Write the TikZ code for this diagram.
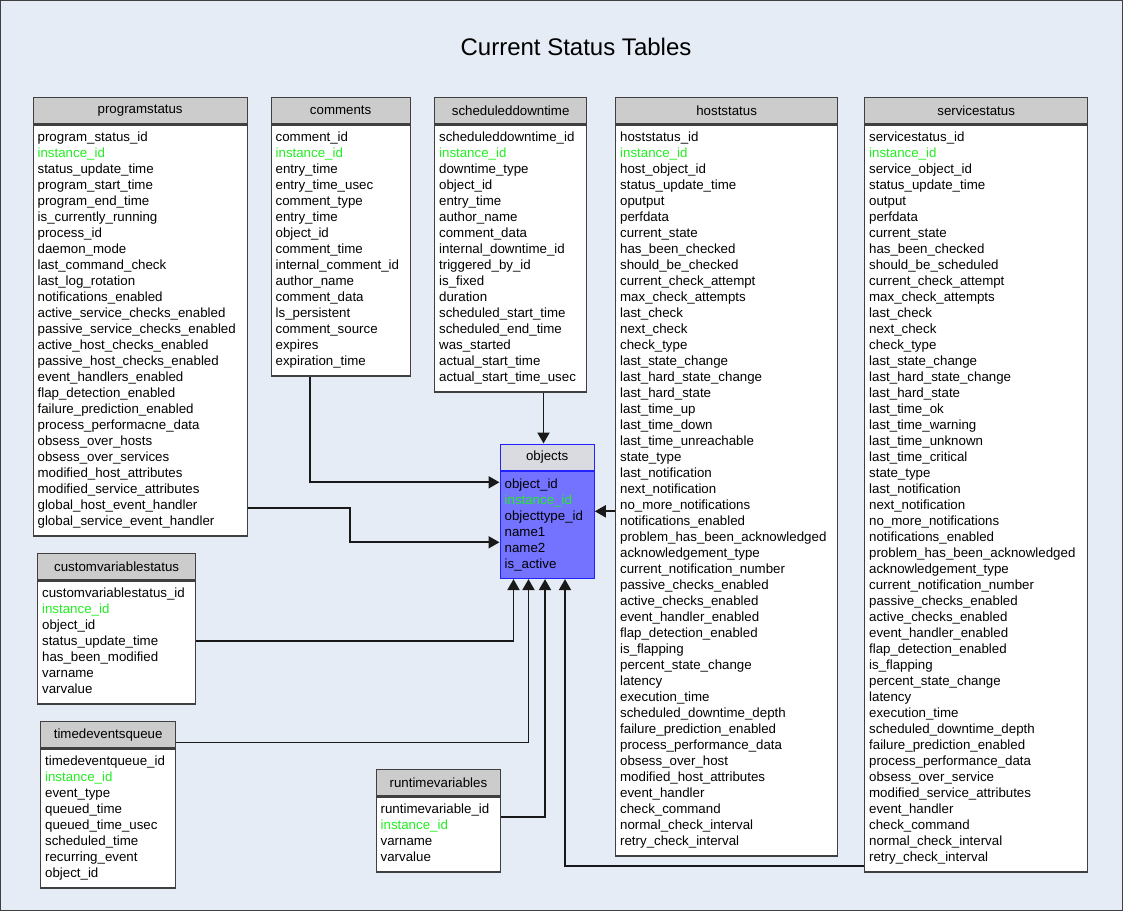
\documentclass[tikz,border=0pt]{standalone}
\usepackage{fontspec}
\setmainfont{Liberation Sans}
\usetikzlibrary{arrows.meta}

\definecolor{bgblue}{HTML}{E6ECF6}
\definecolor{hdrgray}{HTML}{CCCCCC}
\definecolor{boxline}{HTML}{404040}
\definecolor{idgreen}{HTML}{22EE22}
\definecolor{objfill}{HTML}{7373FF}
\definecolor{objline}{HTML}{2222FF}
\definecolor{objhdr}{HTML}{D9DBE0}

\newcommand{\fld}{\fontsize{13.3}{16}\selectfont}
\newcommand{\idf}[1]{\textcolor{idgreen}{#1}}

\begin{document}
\begin{tikzpicture}[x=1pt, y=-1pt,
    hdr/.style={draw=boxline, fill=hdrgray, line width=1.3pt, minimum height=26pt, inner sep=0pt, anchor=north west, font=\fld},
    body/.style={draw=boxline, fill=white, line width=1.3pt, anchor=north west, align=left, inner xsep=4.5pt, inner ysep=5.5pt, font=\fld, execute at begin node=\strut, execute at end node=\strut},
    conn/.style={draw=black!90, line width=1.9pt, -{Triangle[length=11pt,width=12pt]}}]
    \useasboundingbox (0,0) rectangle (1123,911);
    % frame and title
    \draw[fill=bgblue, draw=boxline, line width=1pt] (0.5,0.5) rectangle (1122.5,910.5);
    \node[font=\fontsize{24}{28}\selectfont] (title) at (576,47) {Current Status Tables};

    % programstatus
    \node[hdr, minimum width=214pt] (ps) at (32.5,97) {programstatus};
    \node[body, text width=205pt] (psb) at (ps.south west) {program\_status\_id\\ \idf{instance\_id}\\ status\_update\_time\\ program\_start\_time\\ program\_end\_time\\ is\_currently\_running\\ process\_id\\ daemon\_mode\\ last\_command\_check\\ last\_log\_rotation\\ notifications\_enabled\\ active\_service\_checks\_enabled\\ passive\_service\_checks\_enabled\\ active\_host\_checks\_enabled\\ passive\_host\_checks\_enabled\\ event\_handlers\_enabled\\ flap\_detection\_enabled\\ failure\_prediction\_enabled\\ process\_performacne\_data\\ obsess\_over\_hosts\\ obsess\_over\_services\\ modified\_host\_attributes\\ modified\_service\_attributes\\ global\_host\_event\_handler\\ global\_service\_event\_handler};

    % comments
    \node[hdr, minimum width=139pt] (cm) at (270.5,97) {comments};
    \node[body, text width=130pt] (cmb) at (cm.south west) {comment\_id\\ \idf{instance\_id}\\ entry\_time\\ entry\_time\_usec\\ comment\_type\\ entry\_time\\ object\_id\\ comment\_time\\ internal\_comment\_id\\ author\_name\\ comment\_data\\ ls\_persistent\\ comment\_source\\ expires\\ expiration\_time};

    % scheduleddowntime
    \node[hdr, minimum width=152pt] (sd) at (434,97) {scheduleddowntime};
    \node[body, text width=143pt] (sdb) at (sd.south west) {scheduleddowntime\_id\\ \idf{instance\_id}\\ downtime\_type\\ object\_id\\ entry\_time\\ author\_name\\ comment\_data\\ internal\_downtime\_id\\ triggered\_by\_id\\ is\_fixed\\ duration\\ scheduled\_start\_time\\ scheduled\_end\_time\\ was\_started\\ actual\_start\_time\\ actual\_start\_time\_usec};

    % hoststatus
    \node[hdr, minimum width=222pt] (hs) at (615,97) {hoststatus};
    \node[body, text width=213pt] (hsb) at (hs.south west) {hoststatus\_id\\ \idf{instance\_id}\\ host\_object\_id\\ status\_update\_time\\ oputput\\ perfdata\\ current\_state\\ has\_been\_checked\\ should\_be\_checked\\ current\_check\_attempt\\ max\_check\_attempts\\ last\_check\\ next\_check\\ check\_type\\ last\_state\_change\\ last\_hard\_state\_change\\ last\_hard\_state\\ last\_time\_up\\ last\_time\_down\\ last\_time\_unreachable\\ state\_type\\ last\_notification\\ next\_notification\\ no\_more\_notifications\\ notifications\_enabled\\ problem\_has\_been\_acknowledged\\ acknowledgement\_type\\ current\_notification\_number\\ passive\_checks\_enabled\\ active\_checks\_enabled\\ event\_handler\_enabled\\ flap\_detection\_enabled\\ is\_flapping\\ percent\_state\_change\\ latency\\ execution\_time\\ scheduled\_downtime\_depth\\ failure\_prediction\_enabled\\ process\_performance\_data\\ obsess\_over\_host\\ modified\_host\_attributes\\ event\_handler\\ check\_command\\ normal\_check\_interval\\ retry\_check\_interval};

    % servicestatus
    \node[hdr, minimum width=223pt] (ss) at (864,97) {servicestatus};
    \node[body, text width=214pt] (ssb) at (ss.south west) {servicestatus\_id\\ \idf{instance\_id}\\ service\_object\_id\\ status\_update\_time\\ output\\ perfdata\\ current\_state\\ has\_been\_checked\\ should\_be\_scheduled\\ current\_check\_attempt\\ max\_check\_attempts\\ last\_check\\ next\_check\\ check\_type\\ last\_state\_change\\ last\_hard\_state\_change\\ last\_hard\_state\\ last\_time\_ok\\ last\_time\_warning\\ last\_time\_unknown\\ last\_time\_critical\\ state\_type\\ last\_notification\\ next\_notification\\ no\_more\_notifications\\ notifications\_enabled\\ problem\_has\_been\_acknowledged\\ acknowledgement\_type\\ current\_notification\_number\\ passive\_checks\_enabled\\ active\_checks\_enabled\\ event\_handler\_enabled\\ flap\_detection\_enabled\\ is\_flapping\\ percent\_state\_change\\ latency\\ execution\_time\\ scheduled\_downtime\_depth\\ failure\_prediction\_enabled\\ process\_performance\_data\\ obsess\_over\_service\\ modified\_service\_attributes\\ event\_handler\\ check\_command\\ normal\_check\_interval\\ retry\_check\_interval};

    % objects
    \node[hdr, minimum width=94pt, draw=objline, fill=objhdr] (ob) at (499.5,443.5) {objects};
    \node[body, text width=85pt, draw=objline, fill=objfill] (obb) at (ob.south west) {object\_id\\ \idf{instance\_id}\\ objecttype\_id\\ name1\\ name2\\ is\_active};

    % customvariablestatus
    \node[hdr, minimum width=158pt] (cv) at (37,553) {customvariablestatus};
    \node[body, text width=149pt] (cvb) at (cv.south west) {customvariablestatus\_id\\ \idf{instance\_id}\\ object\_id\\ status\_update\_time\\ has\_been\_modified\\ varname\\ varvalue};

    % timedeventsqueue
    \node[hdr, minimum width=135pt] (tq) at (40,721) {timedeventsqueue};
    \node[body, text width=126pt] (tqb) at (tq.south west) {timedeventqueue\_id\\ \idf{instance\_id}\\ event\_type\\ queued\_time\\ queued\_time\_usec\\ scheduled\_time\\ recurring\_event\\ object\_id};

    % runtimevariables
    \node[hdr, minimum width=124.5pt] (rv) at (375.5,769) {runtimevariables};
    \node[body, text width=115.5pt] (rvb) at (rv.south west) {runtimevariable\_id\\ \idf{instance\_id}\\ varname\\ varvalue};

    % connectors
    \coordinate (sdx) at ([xshift=109.5pt]sdb.south west);
    \coordinate (hsx) at ([yshift=-387pt]hsb.north west);
    \draw[conn] ([xshift=39.8pt]cmb.south west) |- ([yshift=-11.5pt]obb.north west);
    \draw[conn] ([yshift=29pt]psb.south east) -- ++(102,0) |- ([yshift=-71.5pt]obb.north west);
    \draw[conn] (sdx) -- (sdx |- ob.north);
    \draw[conn] (hsx) -- (hsx -| obb.east);
    \draw[conn] ([yshift=-61pt]cvb.north east) -| ([xshift=14pt]obb.south west);
    \draw[conn] ([yshift=-21.5pt]tq.north east) -| ([xshift=29pt]obb.south west);
    \draw[conn] ([yshift=-21pt]rvb.north east) -| ([xshift=45.5pt]obb.south west);
    \draw[conn] ([yshift=6.7pt]ssb.south west) -| ([xshift=65.5pt]obb.south west);

  \end{tikzpicture}
\end{document}
